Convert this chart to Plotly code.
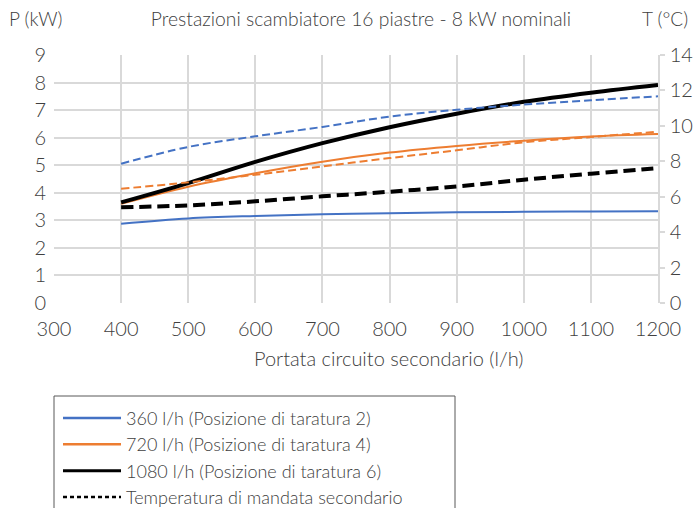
import plotly.graph_objects as go

# ---- data ----
portata = [400, 500, 600, 700, 800, 900, 1000, 1100, 1200]

p_360 = [2.88, 3.07, 3.16, 3.22, 3.26, 3.29, 3.31, 3.32, 3.33]
p_720 = [3.60, 4.22, 4.71, 5.13, 5.46, 5.70, 5.89, 6.04, 6.13]
p_1080 = [3.65, 4.35, 5.12, 5.80, 6.38, 6.87, 7.30, 7.63, 7.91]

t_360 = [7.86, 8.81, 9.41, 9.94, 10.52, 10.91, 11.20, 11.44, 11.67]
t_720 = [6.45, 6.81, 7.24, 7.71, 8.18, 8.62, 9.07, 9.37, 9.67]
t_1080 = [5.40, 5.51, 5.74, 6.02, 6.28, 6.58, 6.96, 7.30, 7.62]

legend_labels = [
    "360 l/h (Posizione di taratura 2)",
    "720 l/h (Posizione di taratura 4)",
    "1080 l/h (Posizione di taratura 6)",
    "Temperatura di mandata secondario",
]

x_ticks = list(range(300, 1300, 100))
y_ticks = list(range(0, 10))
y2_ticks = list(range(0, 16, 2))

title_text = "Prestazioni scambiatore 16 piastre - 8 kW nominali"
xtitle_text = "Portata circuito secondario (l/h)"

BLUE = "#4472C4"
ORANGE = "#ED7D31"
BLACK = "#000000"
GRID = "#D9D9D9"
TEXT = "#404040"
FONT = "Lato"
W = 300

fig = go.Figure()

# power (left axis)
fig.add_trace(go.Scatter(x=portata, y=p_360, mode="lines", line=dict(color=BLUE, width=2, shape="spline"),
                         showlegend=False))
fig.add_trace(go.Scatter(x=portata, y=p_720, mode="lines", line=dict(color=ORANGE, width=2, shape="spline"),
                         showlegend=False))
fig.add_trace(go.Scatter(x=portata, y=p_1080, mode="lines", line=dict(color=BLACK, width=4, shape="spline"),
                         showlegend=False))
# temperature (right axis)
fig.add_trace(go.Scatter(x=portata, y=t_360, mode="lines", yaxis="y2",
                         line=dict(color=BLUE, width=2, dash="8px,4px", shape="spline"), showlegend=False))
fig.add_trace(go.Scatter(x=portata, y=t_720, mode="lines", yaxis="y2",
                         line=dict(color=ORANGE, width=2, dash="8px,4px", shape="spline"), showlegend=False))
fig.add_trace(go.Scatter(x=portata, y=t_1080, mode="lines", yaxis="y2",
                         line=dict(color=BLACK, width=4, dash="12px,6px", shape="spline"), showlegend=False))

# legend entries
leg_styles = [
    dict(color=BLUE, width=2.5),
    dict(color=ORANGE, width=2.5),
    dict(color=BLACK, width=3),
    dict(color=BLACK, width=2.5, dash="4px,3px"),
]
for i, (lab, st) in enumerate(zip(legend_labels, leg_styles)):
    fig.add_trace(go.Scatter(x=[None], y=[None], mode="lines", line=st, name=lab,
                             legendgroup=f"g{i}", showlegend=True))

fig.update_layout(
    width=694, height=508,
    margin=dict(l=54, r=36, t=55, b=205, autoexpand=False),
    paper_bgcolor="white", plot_bgcolor="white",
    font=dict(family=FONT, color=TEXT, size=19, weight=W),
    title=dict(text=title_text, x=361 / 694, xref="container", xanchor="center", y=1 - 19 / 508,
               yanchor="middle", yref="container", font=dict(size=19.3, color=TEXT, weight=W)),
    xaxis=dict(range=[300, 1200], tickvals=x_ticks, showgrid=True, gridcolor=GRID, gridwidth=1.5,
               zeroline=False, showline=False, ticks="", tickfont=dict(size=20, weight=W),
               ticklabelstandoff=12, automargin=False),
    yaxis=dict(range=[0, 9], tickvals=y_ticks, showgrid=True, gridcolor=GRID, gridwidth=1.5,
               zeroline=False, showline=False, ticks="", tickfont=dict(size=20, weight=W),
               ticklabelstandoff=7, automargin=False),
    yaxis2=dict(range=[0, 14], tickvals=y2_ticks, overlaying="y", side="right", showgrid=False,
                zeroline=False, showline=True, linecolor=GRID, linewidth=1.5, ticks="outside",
                ticklen=5, tickcolor=GRID, tickwidth=1.5, tickfont=dict(size=20, weight=W),
                ticklabelstandoff=1, automargin=False),
    legend=dict(x=4 / 604, y=-0.39, xanchor="left", yanchor="top", bgcolor="rgba(0,0,0,0)",
                font=dict(size=18, color=TEXT, weight=W), traceorder="grouped", tracegroupgap=0,
                itemwidth=58),
    showlegend=True,
)

fig.add_shape(type="rect", xref="paper", yref="paper", x0=0.0, x1=(455 - 54) / 604,
              y0=-1.2, y1=-0.375, line=dict(color="#595959", width=1), fillcolor="rgba(0,0,0,0)")

fig.add_annotation(text="P (kW)", xref="paper", yref="paper", x=-47 / 604, y=1 + 36 / 248,
                   xanchor="left", yanchor="middle", showarrow=False, font=dict(size=19, color=TEXT, weight=W))
fig.add_annotation(text="T (°C)", xref="paper", yref="paper", x=1 + 32 / 604, y=1 + 36 / 248,
                   xanchor="right", yanchor="middle", showarrow=False, font=dict(size=19, color=TEXT, weight=W))
fig.add_annotation(text=xtitle_text, xref="paper", yref="paper", x=(388 - 54) / 604, y=-55 / 248,
                   xanchor="center", yanchor="middle", showarrow=False, font=dict(size=20, color=TEXT, weight=W))

fig.write_html("out.html", config={"displayModeBar": False},
               post_script="document.body.style.margin='0';document.body.style.overflow='hidden';")
